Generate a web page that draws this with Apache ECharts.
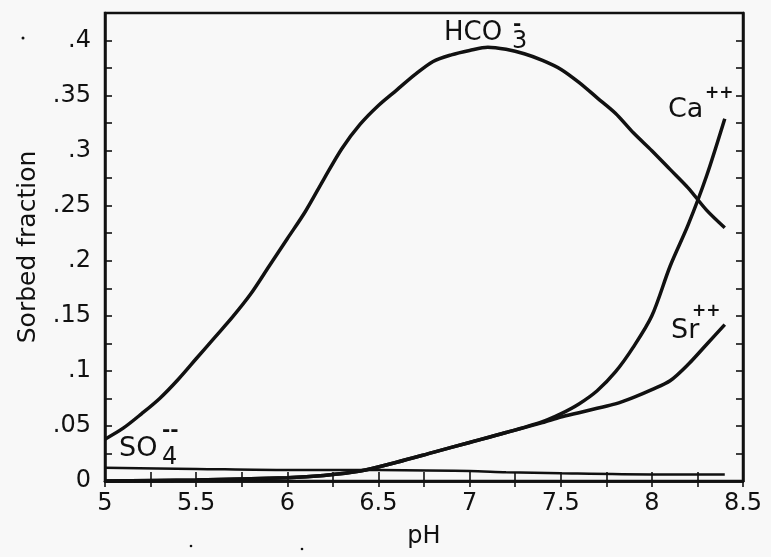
<!DOCTYPE html>
<html>
<head>
<meta charset="utf-8">
<script src="https://cdn.jsdelivr.net/npm/echarts@6/dist/echarts.min.js"></script>
<style>
  html, body { margin: 0; padding: 0; background: #f8f8f8; }
  #chart { width: 771px; height: 557px; }
</style>
</head>
<body>
<div id="chart"></div>
<script>
// pH sample points for each sorbed species
const phHCO3 = [5.0, 5.1, 5.2, 5.3, 5.4, 5.5, 5.6, 5.7, 5.8, 5.9, 6.0, 6.1, 6.2, 6.3, 6.4, 6.5, 6.6, 6.7, 6.8, 6.9, 7.0, 7.1, 7.2, 7.3, 7.4, 7.5, 7.6, 7.7, 7.8, 7.9, 8.0, 8.1, 8.2, 8.3, 8.4];
const hco3 = [0.038, 0.048, 0.061, 0.075, 0.092, 0.111, 0.130, 0.149, 0.170, 0.195, 0.220, 0.245, 0.274, 0.302, 0.324, 0.341, 0.355, 0.369, 0.381, 0.387, 0.391, 0.394, 0.392, 0.388, 0.382, 0.374, 0.362, 0.348, 0.334, 0.316, 0.300, 0.283, 0.266, 0.246, 0.230];

const phCation = [5.0, 5.5, 6.0, 6.2, 6.4, 6.6, 6.8, 7.0, 7.2, 7.4, 7.5, 7.6, 7.7, 7.8, 7.9, 8.0, 8.1, 8.2, 8.3, 8.4];
const ca = [0.000, 0.001, 0.003, 0.005, 0.009, 0.017, 0.026, 0.035, 0.044, 0.054, 0.061, 0.070, 0.082, 0.099, 0.122, 0.150, 0.195, 0.233, 0.277, 0.329];
const sr = [0.000, 0.001, 0.003, 0.005, 0.009, 0.017, 0.026, 0.035, 0.044, 0.053, 0.058, 0.062, 0.066, 0.070, 0.076, 0.083, 0.091, 0.106, 0.124, 0.142];

const phSO4 = [5.0, 5.5, 6.0, 6.5, 7.0, 7.2, 7.5, 8.0, 8.4];
const so4 = [0.012, 0.011, 0.010, 0.010, 0.009, 0.008, 0.007, 0.006, 0.006];

const xTicks = [5, 5.5, 6, 6.5, 7, 7.5, 8, 8.5];
const yTicks = [0, 0.05, 0.1, 0.15, 0.2, 0.25, 0.3, 0.35, 0.4];

const pairs = (xs, ys) => xs.map((x, i) => [x, ys[i]]);
const near = (v, list) => list.some(t => Math.abs(t - v) < 1e-6);

const FONT = '"DejaVu Sans", Arial, sans-serif';
const INK = '#111';

function xLabel(v) {
  return near(v, xTicks) ? String(v) : '';
}
function yLabel(v) {
  if (!near(v, yTicks)) return '';
  if (Math.abs(v) < 1e-9) return '0';
  return String(+v.toFixed(2)).replace(/^0/, '');
}

const lineSeries = (name, data, width) => ({
  name, type: 'line', data, smooth: 0.3, showSymbol: false,
  lineStyle: { color: INK, width }
});

// species annotation text: main label plus raised/lowered charge parts
const note = (text, x, y, size, weight) => ({
  type: 'text', x, y,
  style: { text, font: (weight || 'normal') + ' ' + size + 'px ' + FONT, fill: INK, verticalAlign: 'middle', align: 'left' }
});

const chart = echarts.init(document.getElementById('chart'));
chart.setOption({
  backgroundColor: '#f8f8f8',
  animation: false,
  grid: { left: 105, right: 28, top: 13, bottom: 76, show: true, borderColor: INK, borderWidth: 2.5, backgroundColor: 'transparent' },
  xAxis: [
    {
      type: 'value', min: 5, max: 8.5, interval: 0.25,
      name: 'pH', nameLocation: 'middle', nameGap: 44,
      nameTextStyle: { fontFamily: FONT, fontSize: 24, color: INK },
      axisLine: { show: true, lineStyle: { color: INK, width: 2.5 } },
      axisTick: { show: true, inside: true, length: 9, lineStyle: { color: INK, width: 1.6 } },
      axisLabel: { formatter: xLabel, fontFamily: FONT, fontSize: 24, color: INK, margin: 11, showMinLabel: true, showMaxLabel: true },
      splitLine: { show: false }
    },
    {
      type: 'value', min: 5, max: 8.5, interval: 0.25, position: 'top',
      axisLine: { show: true, lineStyle: { color: INK, width: 2.5 } },
      axisTick: { show: true, inside: true, length: 6, lineStyle: { color: INK, width: 1.6 } },
      axisLabel: { show: false }, splitLine: { show: false }
    }
  ],
  yAxis: [
    {
      type: 'value', min: 0, max: 0.425, interval: 0.025,
      name: 'Sorbed fraction', nameLocation: 'middle', nameGap: 64, nameRotate: 90,
      nameTextStyle: { fontFamily: FONT, fontSize: 25, color: INK },
      axisLine: { show: true, lineStyle: { color: INK, width: 2.5 } },
      axisTick: { show: true, inside: true, length: 7, lineStyle: { color: INK, width: 1.6 } },
      axisLabel: { formatter: yLabel, fontFamily: FONT, fontSize: 24, color: INK, margin: 14 },
      splitLine: { show: false }
    },
    {
      type: 'value', min: 0, max: 0.425, interval: 0.025, position: 'right',
      axisLine: { show: true, lineStyle: { color: INK, width: 2.5 } },
      axisTick: { show: true, inside: true, length: 7, lineStyle: { color: INK, width: 1.6 } },
      axisLabel: { show: false }, splitLine: { show: false }
    }
  ],
  series: [
    lineSeries('SO4--', pairs(phSO4, so4), 2.5),
    lineSeries('Ca++', pairs(phCation, ca), 3.5),
    lineSeries('Sr++', pairs(phCation, sr), 3.5),
    lineSeries('HCO3-', pairs(phHCO3, hco3), 3.5)
  ],
  graphic: [
    note('HCO', 444, 33, 26),
    note('3', 512, 42, 24),
    note('-', 513, 25, 20, 'bold'),

    note('Ca', 668, 110, 27),
    note('++', 705, 94, 17, 'bold'),

    note('Sr', 671, 331, 27),
    note('++', 692, 312, 17, 'bold'),

    note('SO', 119, 449, 27),
    note('4', 162, 458, 24),
    note('--', 162, 431, 20, 'bold'),

    { type: 'circle', shape: { cx: 23, cy: 38, r: 1.5 }, style: { fill: INK } },
    { type: 'circle', shape: { cx: 191, cy: 546, r: 1.3 }, style: { fill: INK } },
    { type: 'circle', shape: { cx: 302, cy: 549, r: 1.3 }, style: { fill: INK } }
  ]
});
</script>
</body>
</html>
